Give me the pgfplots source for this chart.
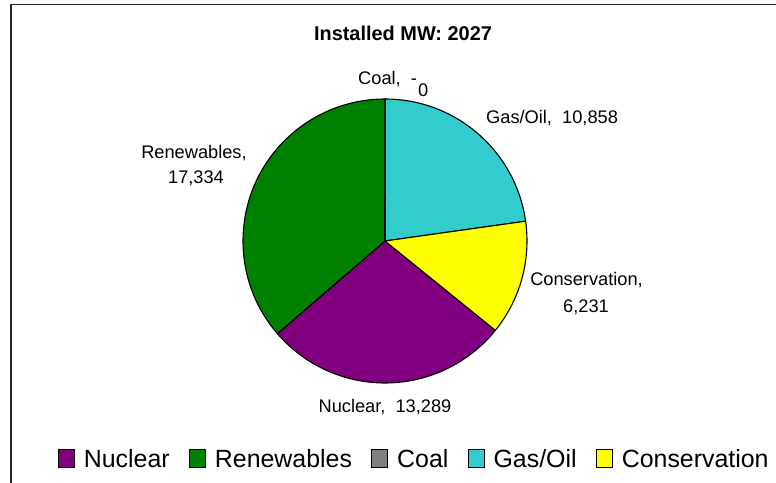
\documentclass[border=0pt]{standalone}
\usepackage{fontspec}
\setmainfont{Liberation Sans}
\usepackage{pgfplots}
\pgfplotsset{compat=1.18}
\definecolor{cNuc}{HTML}{800080}
\definecolor{cRen}{HTML}{008000}
\definecolor{cCoal}{HTML}{808080}
\definecolor{cGas}{HTML}{33CCCC}
\definecolor{cCon}{HTML}{FFFF00}
% data (MW)
\def\vNuc{13289}
\def\vRen{17334}
\def\vCoal{0}
\def\vGas{10858}
\def\vCon{6231}
\edef\vTot{\fpeval{\vNuc+\vRen+\vCoal+\vGas+\vCon}}
% first slice angle 129 deg clockwise from 12 o'clock
\edef\aA{\fpeval{90-129}}
\edef\aB{\fpeval{round(\aA-360*\vNuc/\vTot,3)}}
\edef\aC{\fpeval{round(\aB-360*\vRen/\vTot,3)}}
\edef\aD{\fpeval{round(\aC-360*\vCoal/\vTot,3)}}
\edef\aE{\fpeval{round(\aD-360*\vGas/\vTot,3)}}
\edef\aF{\fpeval{round(\aE-360*\vCon/\vTot,3)}}
\newcommand\slice[3]{\filldraw[fill=#3,draw=black,line width=1.1bp,line join=round] (axis cs:385,242) -- +(#1:142bp) arc[start angle=#1,end angle=#2,radius=142bp] -- cycle;}
\begin{document}
\begin{tikzpicture}
\begin{axis}[
  scale only axis, width=776bp, height=483bp,
  xmin=0, xmax=776, ymin=0, ymax=483,
  hide axis, clip=false,
  legend columns=5,
  legend style={draw=none, fill=none, inner sep=0pt, at={(axis cs:58,16)}, anchor=base west,
    font=\fontsize{25}{28}\selectfont,
    /tikz/every even column/.append style={column sep=19.5bp},
    nodes={inner sep=0pt, anchor=base west}},
]
\coordinate (ll) at (axis cs:0,0);
\coordinate (ur) at (axis cs:776,483);
\addlegendimage{legend image code/.code={\draw[fill=cNuc,draw=black,line width=1bp] (0,0) rectangle (16bp,17bp); \path (25bp,0);}}
\addlegendentry{Nuclear}
\addlegendimage{legend image code/.code={\draw[fill=cRen,draw=black,line width=1bp] (0,0) rectangle (16bp,17bp); \path (25bp,0);}}
\addlegendentry{Renewables}
\addlegendimage{legend image code/.code={\draw[fill=cCoal,draw=black,line width=1bp] (0,0) rectangle (16bp,17bp); \path (25bp,0);}}
\addlegendentry{Coal}
\addlegendimage{legend image code/.code={\draw[fill=cGas,draw=black,line width=1bp] (0,0) rectangle (16bp,17bp); \path (25bp,0);}}
\addlegendentry{Gas/Oil}
\addlegendimage{legend image code/.code={\draw[fill=cCon,draw=black,line width=1bp] (0,0) rectangle (16bp,17bp); \path (25bp,0);}}
\addlegendentry{Conservation}
\slice{\aA}{\aB}{cNuc}
\slice{\aB}{\aC}{cRen}
\slice{\aD}{\aE}{cGas}
\slice{\aE}{\aF}{cCon}
\draw[black,line width=1.1bp] (axis cs:385,242) -- +(\aC:142bp);
% frame
\draw[line width=1.5bp,color=black!85] (axis cs:11,0) -- (axis cs:11,478.5) -- (axis cs:776,478.5);
% title
\node[anchor=base,font=\bfseries\fontsize{20}{24}\selectfont,inner sep=0pt] at (axis cs:403,442.3) {Installed MW: 2027};
% data labels
\begin{scope}[every node/.style={inner sep=0pt,font=\fontsize{18.3}{22}\selectfont}]
\node[anchor=base west] at (axis cs:358,398) {Coal,\ \ -};
\node[anchor=base west] at (axis cs:418,386) {0};
\node[anchor=base west] at (axis cs:486,359) {Gas/Oil,\ \ 10,858};
\node[anchor=base] at (axis cs:586.5,197) {Conservation,};
\node[anchor=base] at (axis cs:586,170) {6,231};
\node[anchor=base] at (axis cs:194,324) {Renewables,};
\node[anchor=base] at (axis cs:196,299) {17,334};
\node[anchor=base] at (axis cs:385,70) {Nuclear,\ \ 13,289};
\end{scope}
\end{axis}
\pgfresetboundingbox
\path (ll) rectangle (ur);
\end{tikzpicture}
\end{document}
